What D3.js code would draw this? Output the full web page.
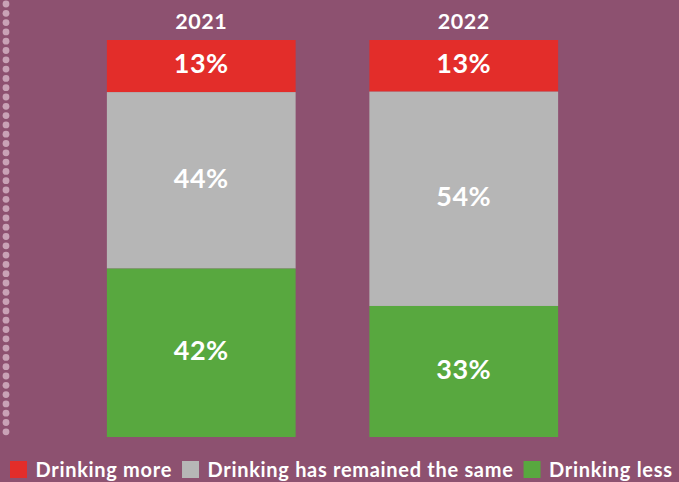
<!DOCTYPE html>
<html>
<head>
<meta charset="utf-8">
<script src="https://cdn.jsdelivr.net/npm/d3@7"></script>
<style>
  html, body { margin: 0; padding: 0; background: #8d5170; }
  svg { display: block; font-family: Lato, "Open Sans", sans-serif; }
</style>
</head>
<body>
<div id="chart"></div>
<script>
// data
const years = ["2021", "2022"];
const categories = ["Drinking more", "Drinking has remained the same", "Drinking less"];
const moreValues = [13, 13];
const sameValues = [44, 54];
const lessValues = [42, 33];
const colors = ["#e32d2a", "#b6b6b6", "#58a83f"];

const width = 679, height = 482;
const barTop = 40, barBottom = 437;

const rows = years.map((y, i) => ({
  year: y,
  [categories[0]]: moreValues[i],
  [categories[1]]: sameValues[i],
  [categories[2]]: lessValues[i]
}));

const svg = d3.select("#chart").append("svg")
  .attr("width", width)
  .attr("height", height);

svg.append("rect")
  .attr("width", width).attr("height", height)
  .attr("fill", "#8d5170");

// dotted rule at the left
const dots = d3.range(4, 440, 9.3);
svg.append("g").selectAll("circle")
  .data(dots)
  .enter().append("circle")
    .attr("cx", 6)
    .attr("cy", d => d)
    .attr("r", 3.4)
    .attr("fill", "#c9a2b6");

const x = d3.scaleBand()
  .domain(years)
  .range([70, 595])
  .paddingInner(0.281)
  .paddingOuter(0.1405);

// each bar is stacked to its own total
const stack = d3.stack()
  .keys(categories)
  .order(d3.stackOrderNone)
  .offset(d3.stackOffsetExpand);
const series = stack(rows);

const y = d3.scaleLinear()
  .domain([0, 1])
  .range([barBottom, barTop]);

// stack from the top: red first
const yTop = v => y(1 - v);

const layer = svg.selectAll("g.layer")
  .data(series)
  .enter().append("g")
    .attr("class", "layer")
    .attr("fill", (d, i) => colors[i]);

layer.selectAll("rect")
  .data(d => d)
  .enter().append("rect")
    .attr("x", d => x(d.data.year))
    .attr("width", x.bandwidth())
    .attr("y", d => yTop(d[0]))
    .attr("height", d => yTop(d[1]) - yTop(d[0]));

layer.selectAll("text")
  .data((d, i) => d.map(v => ({ v: v, key: series[i].key })))
  .enter().append("text")
    .attr("x", d => x(d.v.data.year) + x.bandwidth() / 2)
    .attr("y", d => (yTop(d.v[0]) + yTop(d.v[1])) / 2)
    .attr("dy", "0.27em")
    .attr("text-anchor", "middle")
    .attr("fill", "#fff")
    .style("font-size", "27px")
    .style("font-weight", "bold")
    .style("letter-spacing", "0.5px")
    .text(d => d.v.data[d.key] + "%");

// year labels
svg.append("g").selectAll("text")
  .data(years)
  .enter().append("text")
    .attr("x", d => x(d) + x.bandwidth() / 2)
    .attr("y", 29)
    .attr("text-anchor", "middle")
    .attr("fill", "#fff")
    .style("font-size", "21.5px")
    .style("font-weight", "bold")
    .style("letter-spacing", "0.5px")
    .text(d => d);

// legend
const legend = svg.append("g").attr("transform", "translate(10,461)");
let lx = 0;
categories.forEach((c, i) => {
  const g = legend.append("g").attr("transform", `translate(${lx},0)`);
  g.append("rect")
    .attr("width", 17).attr("height", 17)
    .attr("fill", colors[i]);
  const t = g.append("text")
    .attr("x", 25.5)
    .attr("y", 15.5)
    .attr("fill", "#fff")
    .style("font-size", "20px")
    .style("font-weight", "bold")
    .style("letter-spacing", "0.7px")
    .text(c);
  lx += 25.5 + t.node().getComputedTextLength() + 10;
});
</script>
</body>
</html>
